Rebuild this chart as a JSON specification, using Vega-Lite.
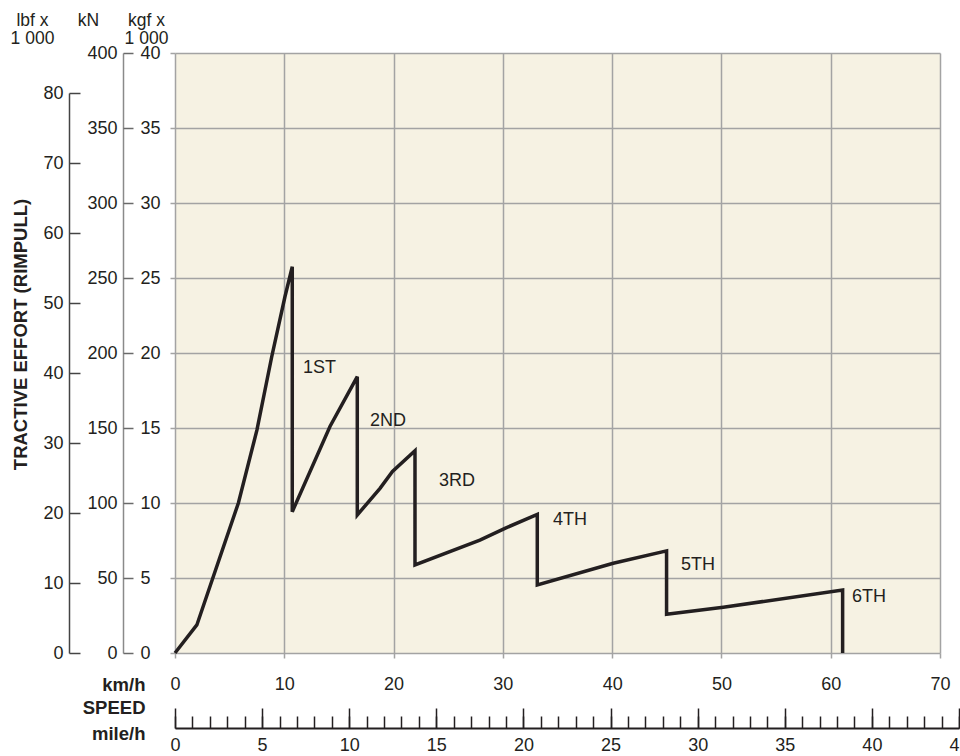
{
  "$schema": "https://vega.github.io/schema/vega-lite/v6.json",
  "width": 765,
  "height": 600,
  "autosize": {"type": "none"},
  "padding": {"left": 175, "top": 53, "right": 20, "bottom": 103},
  "background": "white",
  "config": {
    "font": "Liberation Sans",
    "view": {"fill": "#f6f2e3", "stroke": null},
    "axis": {
      "labelFont": "Liberation Sans",
      "labelFontSize": 18,
      "labelColor": "#231f20",
      "labelFlush": false,
      "labelOverlap": false,
      "labelBound": false,
      "titleFont": "Liberation Sans",
      "titleFontSize": 17.5,
      "titleColor": "#231f20",
      "titleFontWeight": "normal"
    }
  },
  "datasets": {
    "rimpull": [
      {"i": 0, "kmh": 0, "kN": 0},
      {"i": 1, "kmh": 2.0, "kN": 18.7},
      {"i": 2, "kmh": 3.4, "kN": 48.7},
      {"i": 3, "kmh": 5.8, "kN": 100},
      {"i": 4, "kmh": 7.5, "kN": 148.7},
      {"i": 5, "kmh": 8.85, "kN": 197.5},
      {"i": 6, "kmh": 10.06, "kN": 237.5},
      {"i": 7, "kmh": 10.73, "kN": 257.5},
      {"i": 8, "kmh": 10.73, "kN": 94.2},
      {"i": 9, "kmh": 14.18, "kN": 151},
      {"i": 10, "kmh": 16.68, "kN": 184.2},
      {"i": 11, "kmh": 16.68, "kN": 92},
      {"i": 12, "kmh": 18.76, "kN": 109.8},
      {"i": 13, "kmh": 19.9, "kN": 121},
      {"i": 14, "kmh": 21.96, "kN": 134.9},
      {"i": 15, "kmh": 21.96, "kN": 58.7},
      {"i": 16, "kmh": 27.9, "kN": 75.3},
      {"i": 17, "kmh": 30.19, "kN": 83.1},
      {"i": 18, "kmh": 33.15, "kN": 92.4},
      {"i": 19, "kmh": 33.15, "kN": 45.3},
      {"i": 20, "kmh": 40.1, "kN": 59.8},
      {"i": 21, "kmh": 44.98, "kN": 68.1},
      {"i": 22, "kmh": 44.98, "kN": 25.8},
      {"i": 23, "kmh": 50.17, "kN": 30.5},
      {"i": 24, "kmh": 61.09, "kN": 42},
      {"i": 25, "kmh": 61.09, "kN": 0}
    ],
    "gears": [
      {"gear": "1ST", "kmh": 11.71, "kN": 190},
      {"gear": "2ND", "kmh": 17.84, "kN": 155},
      {"gear": "3RD", "kmh": 24.15, "kN": 115},
      {"gear": "4TH", "kmh": 34.58, "kN": 89},
      {"gear": "5TH", "kmh": 46.29, "kN": 58.7},
      {"gear": "6TH", "kmh": 61.94, "kN": 37.3}
    ]
  },
  "resolve": {
    "scale": {"x": "independent", "y": "independent"},
    "axis": {"x": "independent", "y": "independent"}
  },
  "layer": [
    {
      "encoding": {
        "x": {
          "field": "kmh", "type": "quantitative",
          "scale": {"domain": [0, 70], "nice": false, "zero": false},
          "axis": {
            "orient": "bottom",
            "values": [0, 10, 20, 30, 40, 50, 60, 70],
            "grid": true, "gridColor": "#a3a3a3", "gridWidth": 1.5,
            "domain": false,
            "ticks": true, "tickSize": 5, "tickColor": "#a3a3a3", "tickWidth": 1.5,
            "labelPadding": 17.8,
            "title": "km/h",
            "titleX": -30, "titleY": 37,
            "titleAlign": "right", "titleBaseline": "alphabetic",
            "titleFontWeight": "bold", "titleFontSize": 18.5
          }
        },
        "y": {
          "field": "kN", "type": "quantitative",
          "scale": {"domain": [0, 400], "nice": false, "zero": false},
          "axis": {
            "orient": "left",
            "values": [0, 50, 100, 150, 200, 250, 300, 350, 400],
            "grid": true, "gridColor": "#a3a3a3", "gridWidth": 1.5,
            "domain": false, "labels": false,
            "ticks": true, "tickSize": 5, "tickColor": "#a3a3a3", "tickWidth": 1.5,
            "title": null
          }
        }
      },
      "layer": [
        {
          "data": {"name": "rimpull"},
          "mark": {"type": "line", "color": "#231f20", "strokeWidth": 3.5, "strokeJoin": "miter", "strokeCap": "butt"},
          "encoding": {"order": {"field": "i", "type": "quantitative"}}
        },
        {
          "data": {"name": "gears"},
          "mark": {"type": "text", "align": "left", "baseline": "middle", "fontSize": 18, "font": "Liberation Sans", "color": "#231f20"},
          "encoding": {"text": {"field": "gear", "type": "nominal"}}
        }
      ]
    },
    {
      "data": {"name": "rimpull"},
      "mark": {"type": "point", "opacity": 0, "size": 1},
      "encoding": {
        "y": {
          "field": "kN", "type": "quantitative",
          "scale": {"domain": [0, 400], "nice": false, "zero": false},
          "axis": {
            "orient": "left", "offset": 52,
            "values": [0, 50, 100, 150, 200, 250, 300, 350, 400],
            "grid": false,
            "domain": true, "domainColor": "#8a8a8a", "domainWidth": 1.5,
            "ticks": false, "labelPadding": 6,
            "title": "kN", "titleAngle": 0,
            "titleX": -35, "titleY": -28,
            "titleAlign": "center", "titleBaseline": "alphabetic"
          }
        }
      }
    },
    {
      "data": {"name": "rimpull"},
      "mark": {"type": "point", "opacity": 0, "size": 1},
      "encoding": {
        "y": {
          "field": "kN", "type": "quantitative",
          "scale": {"domain": [0, 40], "nice": false, "zero": false},
          "axis": {
            "orient": "right", "offset": -817,
            "values": [0, 5, 10, 15, 20, 25, 30, 35, 40],
            "grid": false, "domain": false,
            "ticks": true, "tickSize": 10, "tickColor": "#6a6a6a", "tickWidth": 1.5,
            "labelPadding": 7,
            "title": ["kgf x", "1 000"], "titleAngle": 0,
            "titleX": 23, "titleY": -28, "titleLineHeight": 18.5,
            "titleAlign": "center", "titleBaseline": "alphabetic"
          }
        }
      }
    },
    {
      "data": {"name": "rimpull"},
      "mark": {"type": "point", "opacity": 0, "size": 1},
      "encoding": {
        "y": {
          "field": "kN", "type": "quantitative",
          "scale": {"domain": [0, 80], "range": [600, 40], "nice": false, "zero": false},
          "axis": {
            "orient": "left", "offset": 106,
            "values": [0, 10, 20, 30, 40, 50, 60, 70, 80],
            "grid": false,
            "domain": true, "domainColor": "#444444", "domainWidth": 1.5,
            "ticks": false, "labelPadding": 6,
            "title": "TRACTIVE EFFORT (RIMPULL)", "titleAngle": -90,
            "titleX": -49, "titleY": 281,
            "titleAlign": "center", "titleBaseline": "middle",
            "titleFontWeight": "bold", "titleFontSize": 18.5
          }
        }
      }
    },
    {
      "data": {"name": "rimpull"},
      "mark": {"type": "point", "opacity": 0, "size": 1},
      "encoding": {
        "y": {
          "field": "kN", "type": "quantitative",
          "scale": {"domain": [0, 80], "range": [600, 40], "nice": false, "zero": false},
          "axis": {
            "orient": "right", "offset": -871,
            "values": [0, 10, 20, 30, 40, 50, 60, 70, 80],
            "grid": false, "domain": false, "labels": false,
            "ticks": true, "tickSize": 11, "tickColor": "#444444", "tickWidth": 1.5,
            "title": ["lbf x", "1 000"], "titleAngle": 0,
            "titleX": -37, "titleY": -28, "titleLineHeight": 18.5,
            "titleAlign": "center", "titleBaseline": "alphabetic"
          }
        }
      }
    },
    {
      "data": {"name": "rimpull"},
      "mark": {"type": "point", "opacity": 0, "size": 1},
      "encoding": {
        "x": {
          "field": "kmh", "type": "quantitative",
          "scale": {"domain": [0, 45], "range": [0, 784], "nice": false, "zero": false},
          "axis": {
            "orient": "top", "offset": -675,
            "values": [0,1,2,3,4,5,6,7,8,9,10,11,12,13,14,15,16,17,18,19,20,21,22,23,24,25,26,27,28,29,30,31,32,33,34,35,36,37,38,39,40,41,42,43,44,45],
            "grid": false, "labels": false,
            "domain": true, "domainColor": "#231f20", "domainWidth": 2,
            "ticks": true, "tickSize": 12, "tickColor": "#231f20", "tickWidth": 1.5,
            "title": null
          }
        }
      }
    },
    {
      "data": {"name": "rimpull"},
      "mark": {"type": "point", "opacity": 0, "size": 1},
      "encoding": {
        "x": {
          "field": "kmh", "type": "quantitative",
          "scale": {"domain": [0, 45], "range": [0, 784], "nice": false, "zero": false},
          "axis": {
            "orient": "top", "offset": -675,
            "values": [0, 5, 10, 15, 20, 25, 30, 35, 40, 45],
            "grid": false, "labels": false, "domain": false,
            "ticks": true, "tickSize": 20, "tickColor": "#231f20", "tickWidth": 1.5,
            "title": "SPEED",
            "titleX": -30, "titleY": -15,
            "titleAlign": "right", "titleBaseline": "alphabetic",
            "titleFontWeight": "bold", "titleFontSize": 18.5
          }
        }
      }
    },
    {
      "data": {"name": "rimpull"},
      "mark": {"type": "point", "opacity": 0, "size": 1},
      "encoding": {
        "x": {
          "field": "kmh", "type": "quantitative",
          "scale": {"domain": [0, 45], "range": [0, 784], "nice": false, "zero": false},
          "axis": {
            "orient": "bottom", "offset": 75,
            "values": [0, 5, 10, 15, 20, 25, 30, 35, 40, 45],
            "grid": false, "domain": false, "ticks": false,
            "labelPadding": 8.8,
            "title": "mile/h",
            "titleX": -30, "titleY": 11,
            "titleAlign": "right", "titleBaseline": "alphabetic",
            "titleFontWeight": "bold", "titleFontSize": 18.5
          }
        }
      }
    }
  ]
}
